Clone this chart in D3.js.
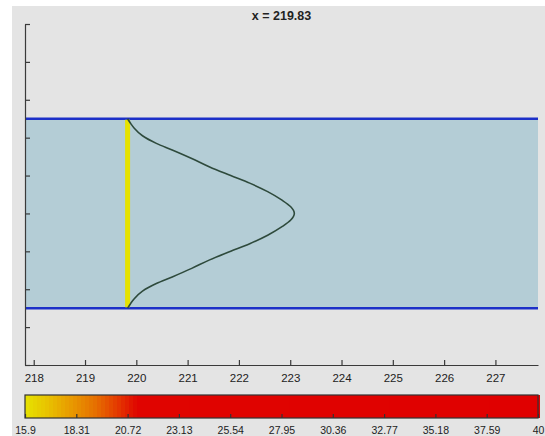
<!DOCTYPE html>
<html>
<head>
<meta charset="utf-8">
<script src="https://cdn.jsdelivr.net/npm/d3@7"></script>
<style>
  html, body { margin: 0; padding: 0; background: #ffffff; }
  svg { display: block; font-family: "Liberation Sans", Arial, Helvetica, sans-serif; }
</style>
</head>
<body>
<svg id="chart" width="545" height="436"></svg>
<script>
// Streamwise station of the section shown
const sectionX = 219.83;

// Channel walls (cross-stream coordinate)
const wallY = [0.5, -0.5];

// Velocity profile across the channel: cross-stream position and displacement from the section line
const profileY = [0.5, 0.475, 0.45, 0.41, 0.37, 0.335, 0.29, 0.245, 0.20, 0.16, 0.115, 0.07, 0.035, 0,
                  -0.035, -0.07, -0.115, -0.16, -0.20, -0.245, -0.29, -0.335, -0.37, -0.41, -0.45, -0.475, -0.5];
const profileU = [0, 0.06, 0.13, 0.29, 0.56, 0.87, 1.25, 1.60, 2.01, 2.38, 2.73, 3.01, 3.18, 3.25,
                  3.18, 3.01, 2.73, 2.38, 2.01, 1.60, 1.25, 0.87, 0.56, 0.29, 0.13, 0.06, 0];

// Axis ticks
const xTicks = [218, 219, 220, 221, 222, 223, 224, 225, 226, 227];
const yTicks = [-0.8, -0.6, -0.4, -0.2, 0, 0.2, 0.4, 0.6, 0.8, 1.0];

// Colour bar range and tick labels
const colorDomain = [15.9, 40];
const colorTicks = [15.9, 18.31, 20.72, 23.13, 25.54, 27.95, 30.36, 32.77, 35.18, 37.59, 40];
const colorStopValues = [15.9, 16.9, 18.0, 19.2, 20.2, 21.2, 40];
const colorStopColors = ["#e6e200", "#e8c400", "#e89c00", "#e67000", "#e43c00", "#e00400", "#e00000"];

const svg = d3.select("#chart");

// Figure panel background
svg.append("rect")
  .attr("x", 12).attr("y", 6).attr("width", 533).attr("height", 430)
  .attr("fill", "#e4e4e4");

const x = d3.scaleLinear().domain([sectionX - 2, sectionX + 8]).range([25, 538]);
const y = d3.scaleLinear().domain([-0.8, 1.0]).range([365, 24]);

// Channel interior
svg.append("rect")
  .attr("x", x.range()[0])
  .attr("y", y(wallY[0]))
  .attr("width", x.range()[1] - x.range()[0])
  .attr("height", y(wallY[1]) - y(wallY[0]))
  .attr("fill", "#b4cdd6");

// Walls
svg.selectAll("line.wall")
  .data(wallY)
  .join("line")
  .attr("class", "wall")
  .attr("x1", x.range()[0]).attr("x2", x.range()[1])
  .attr("y1", d => y(d)).attr("y2", d => y(d))
  .attr("stroke", "#1c30c8")
  .attr("stroke-width", 2.5);

// Colour map
const color = d3.scaleLinear().domain(colorStopValues).range(colorStopColors).clamp(true);

// Section line, coloured by the minimum of the colour range
svg.append("line")
  .attr("x1", x(sectionX)).attr("x2", x(sectionX))
  .attr("y1", y(wallY[0]) + 1).attr("y2", y(wallY[1]) - 1)
  .attr("stroke", color(colorDomain[0]))
  .attr("stroke-width", 5);

// Velocity profile
const line = d3.line()
  .x((d, i) => x(sectionX + profileU[i]))
  .y(d => y(d))
  .curve(d3.curveMonotoneY);

svg.append("path")
  .datum(profileY)
  .attr("d", line)
  .attr("fill", "none")
  .attr("stroke", "#2e4a3c")
  .attr("stroke-width", 1.6);

// Axes
const axisColor = "#3a3a3a";
const yAxis = svg.append("g")
  .attr("transform", `translate(${x.range()[0]},0)`)
  .call(d3.axisRight(y).tickValues(yTicks).tickSize(5).tickSizeOuter(0).tickFormat(""));

const xAxis = svg.append("g")
  .attr("transform", `translate(0,${y.range()[0]})`)
  .call(d3.axisBottom(x).tickValues(xTicks).tickSize(-5).tickSizeOuter(0).tickPadding(9).tickFormat(d3.format("d")));

[yAxis, xAxis].forEach(g => {
  g.select(".domain").attr("stroke", axisColor).attr("stroke-width", 1.2);
  g.selectAll(".tick line").attr("stroke", axisColor).attr("stroke-width", 1.2);
});
xAxis.selectAll(".tick text")
  .attr("fill", "#222")
  .attr("font-size", 11.5)
  .attr("font-family", "Liberation Sans, Arial, sans-serif");

// Title
svg.append("text")
  .attr("x", (x.range()[0] + x.range()[1]) / 2)
  .attr("y", 20)
  .attr("text-anchor", "middle")
  .attr("font-size", 12.5)
  .attr("font-weight", "bold")
  .attr("fill", "#222")
  .text(`x = ${sectionX}`);

// Colour bar
const cb = d3.scaleLinear().domain(colorDomain).range(x.range());
const cbTop = 395, cbBottom = 418;
const nBands = 128;
const bandStep = (colorDomain[1] - colorDomain[0]) / nBands;
const bands = d3.range(nBands).map(i => colorDomain[0] + i * bandStep);

svg.append("g")
  .attr("shape-rendering", "crispEdges")
  .selectAll("rect")
  .data(bands)
  .join("rect")
  .attr("x", d => Math.floor(cb(d)))
  .attr("y", cbTop)
  .attr("width", d => Math.ceil(cb(d + bandStep)) - Math.floor(cb(d)) + 1)
  .attr("height", cbBottom - cbTop)
  .attr("fill", d => color(d + bandStep / 2));

svg.append("rect")
  .attr("x", cb.range()[0]).attr("y", cbTop)
  .attr("width", cb.range()[1] - cb.range()[0]).attr("height", cbBottom - cbTop)
  .attr("fill", "none")
  .attr("stroke", "#333")
  .attr("stroke-width", 1.2);

const cbAxis = svg.append("g")
  .attr("transform", `translate(0,${cbBottom})`)
  .call(d3.axisBottom(cb).tickValues(colorTicks).tickSize(-4).tickSizeOuter(0).tickPadding(8.5).tickFormat(d => String(d)));
cbAxis.select(".domain").remove();
cbAxis.selectAll(".tick line").attr("stroke", "#333").attr("stroke-width", 1.2);
cbAxis.selectAll(".tick text")
  .attr("fill", "#222")
  .attr("font-size", 10.5)
  .attr("font-family", "Liberation Sans, Arial, sans-serif");
</script>
</body>
</html>
